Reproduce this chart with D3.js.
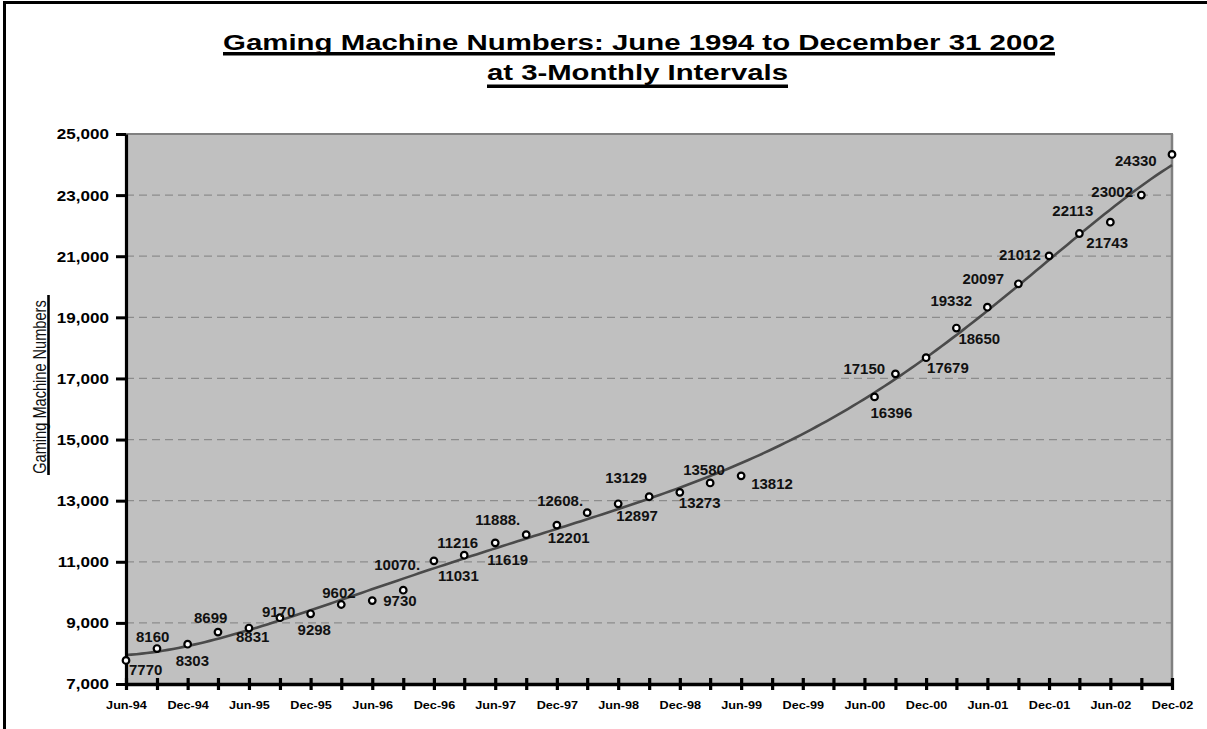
<!DOCTYPE html>
<html>
<head>
<meta charset="utf-8">
<script src="https://cdn.jsdelivr.net/npm/d3@7/dist/d3.min.js"></script>
<style>
body { margin: 0; background: #fff; }
text { font-family: "Liberation Sans", Arial, sans-serif; }
</style>
</head>
<body>
<div id="chart"></div>
<script>
// quarterly counts
var dates = ["1994-06","1994-09","1994-12","1995-03","1995-06","1995-09","1995-12","1996-03",
             "1996-06","1996-09","1996-12","1997-03","1997-06","1997-09","1997-12","1998-03",
             "1998-06","1998-09","1998-12","1999-03","1999-06","2000-07","2000-09","2000-12",
             "2001-03","2001-06","2001-09","2001-12","2002-03","2002-06","2002-09","2002-12"];
var values = [7770,8160,8303,8699,8831,9170,9298,9602,9730,10070,11031,11216,11619,11888,12201,12608,
              12897,13129,13273,13580,13812,16396,17150,17679,18650,19332,20097,21012,21743,22113,23002,24330];
var labels = ["7770","8160","8303","8699","8831","9170","9298","9602","9730","10070.","11031","11216",
              "11619","11888.","12201","12608.","12897","13129","13273","13580","13812","16396","17150",
              "17679","18650","19332","20097","21012","21743","22113","23002","24330"];
var yTicks = [7000,9000,11000,13000,15000,17000,19000,21000,23000,25000];

// where each data label sits relative to its marker (dragged by hand in the original)
var labelOffsets = [[3,15],[-21,-7],[-12,22],[-24,-9],[-13,14],[-18,-1],[-13,21],[-19,-6],[11,5],[-29,-20],
                    [4,20],[-27,-7],[-8,22],[-51,-10],[-9,18],[-50,-7],[-2,17],[-44,-14],[-1,16],[-27,-8],
                    [10,13],[-4,21],[-52,0],[1,15],[2,16],[-57,-1],[-56,0],[-50,4],[7,14],[-58,-6],[-50,2],[-57,12]];

// 6th order polynomial trendline
var trendOrder = 6;

var parse = d3.timeParse("%Y-%m");
var data = dates.map(function(d, i) { return {date: parse(d), value: values[i], label: labels[i]}; });

var W = 1207, H = 729;
var pLeft = 126, pRight = 1172, pTop = 134, pBottom = 684;
var start = parse("1994-06"), end = parse("2002-12");

var x = d3.scaleTime().domain([start, end]).range([pLeft, pRight]);
var y = d3.scaleLinear().domain([7000, 25000]).range([pBottom, pTop]);

var svg = d3.select("#chart").append("svg")
    .attr("width", W)
    .attr("height", H);

function stretch(sel, k) {
    sel.each(function() {
        var w = this.getComputedTextLength();
        d3.select(this).attr("textLength", w * k).attr("lengthAdjust", "spacingAndGlyphs");
    });
}

// page frame
svg.append("line").attr("x1", 3).attr("x2", W).attr("y1", 2.5).attr("y2", 2.5)
    .attr("stroke", "#000").attr("stroke-width", 3);
svg.append("line").attr("x1", 4.5).attr("x2", 4.5).attr("y1", 1).attr("y2", H)
    .attr("stroke", "#000").attr("stroke-width", 3);

// plot area
svg.append("rect")
    .attr("x", pLeft).attr("y", pTop)
    .attr("width", pRight - pLeft).attr("height", pBottom - pTop)
    .attr("fill", "#c0c0c0");

svg.append("g").selectAll("line")
    .data(yTicks.filter(function(d) { return d > 7000 && d < 25000; }))
    .join("line")
    .attr("x1", pLeft).attr("x2", pRight)
    .attr("y1", function(d) { return y(d); })
    .attr("y2", function(d) { return y(d); })
    .attr("stroke", "#8c8c8c")
    .attr("stroke-width", 1.2)
    .attr("stroke-dasharray", "8,5");

svg.append("line").attr("x1", pLeft).attr("x2", pRight + 1).attr("y1", pTop).attr("y2", pTop)
    .attr("stroke", "#808080").attr("stroke-width", 2);
svg.append("line").attr("x1", pRight).attr("x2", pRight).attr("y1", pTop).attr("y2", pBottom)
    .attr("stroke", "#808080").attr("stroke-width", 2.5);

// least squares polynomial, like the spreadsheet trendline
function polyFit(ts, vs, n) {
    var m = n + 1, A = [], i, j, k;
    for (i = 0; i < m; i++) {
        A.push([]);
        for (j = 0; j < m; j++) A[i].push(d3.sum(ts, function(t) { return Math.pow(t, i + j); }));
        A[i].push(d3.sum(ts, function(t, q) { return Math.pow(t, i) * vs[q]; }));
    }
    for (i = 0; i < m; i++) {
        var p = i;
        for (k = i + 1; k < m; k++) if (Math.abs(A[k][i]) > Math.abs(A[p][i])) p = k;
        var tmp = A[i]; A[i] = A[p]; A[p] = tmp;
        for (k = i + 1; k < m; k++) {
            var f = A[k][i] / A[i][i];
            for (j = i; j <= m; j++) A[k][j] -= f * A[i][j];
        }
    }
    var c = new Array(m);
    for (i = m - 1; i >= 0; i--) {
        var s = A[i][m];
        for (j = i + 1; j < m; j++) s -= A[i][j] * c[j];
        c[i] = s / A[i][i];
    }
    return c;
}
var span = end - start;
var ts = data.map(function(d) { return (d.date - start) / span; });
var coef = polyFit(ts, values, trendOrder);
var trend = d3.range(0, 1.0001, 0.005).map(function(t) {
    return {date: new Date(+start + t * span), value: d3.sum(coef, function(c, i) { return c * Math.pow(t, i); })};
});

svg.append("path")
    .datum(trend)
    .attr("fill", "none")
    .attr("stroke", "#4a4a4a")
    .attr("stroke-width", 2.6)
    .attr("d", d3.line()
        .x(function(d) { return x(d.date); })
        .y(function(d) { return y(d.value); }));

// axes
var yAxis = svg.append("g")
    .attr("transform", "translate(" + pLeft + ",0)")
    .call(d3.axisLeft(y).tickValues(yTicks).tickSize(10).tickSizeOuter(0).tickPadding(7)
        .tickFormat(d3.format(",")));
yAxis.select(".domain").attr("stroke-width", 3.2);
yAxis.selectAll(".tick line").attr("stroke-width", 3);
yAxis.selectAll(".tick text")
    .attr("font-family", "Liberation Sans, Arial, sans-serif")
    .attr("font-size", 15.5).attr("font-weight", "bold").attr("fill", "#000")
    .call(stretch, 1.1);

var qTicks = d3.timeMonth.range(start, d3.timeMonth.offset(end, 1)).filter(function(d, i) { return i % 3 === 0; });
var fmt = d3.timeFormat("%b-%y");
var xAxis = svg.append("g")
    .attr("transform", "translate(0," + pBottom + ")")
    .call(d3.axisBottom(x).tickValues(qTicks).tickSize(6).tickSizeOuter(0)
        .tickFormat(function(d) { return (d.getMonth() === 5 || d.getMonth() === 11) ? fmt(d) : ""; }));
xAxis.select(".domain").attr("stroke-width", 3.6);
xAxis.selectAll(".tick line").attr("y1", -6).attr("y2", 6).attr("stroke-width", 3.2);
xAxis.selectAll(".tick text")
    .attr("y", 17)
    .attr("font-family", "Liberation Sans, Arial, sans-serif")
    .attr("font-size", 11.5).attr("font-weight", "bold").attr("fill", "#000")
    .filter(function() { return this.textContent !== ""; })
    .call(stretch, 1.1);

// markers
svg.append("g").selectAll("circle")
    .data(data)
    .join("circle")
    .attr("cx", function(d) { return x(d.date); })
    .attr("cy", function(d) { return y(d.value); })
    .attr("r", 3.3)
    .attr("fill", "#fff")
    .attr("stroke", "#000")
    .attr("stroke-width", 2.2);

// data labels
svg.append("g").selectAll("text")
    .data(data)
    .join("text")
    .attr("x", function(d, i) { return x(d.date) + labelOffsets[i][0]; })
    .attr("y", function(d, i) { return y(d.value) + labelOffsets[i][1]; })
    .attr("font-size", 15)
    .attr("font-weight", "bold")
    .attr("fill", "#111")
    .text(function(d) { return d.label; });

// titles
svg.append("text")
    .attr("x", 223).attr("y", 50)
    .attr("font-size", 22.5).attr("font-weight", "bold")
    .attr("textLength", 832).attr("lengthAdjust", "spacingAndGlyphs")
    .text("Gaming Machine Numbers: June 1994 to December 31 2002");
svg.append("line").attr("x1", 223).attr("x2", 1055).attr("y1", 53.7).attr("y2", 53.7)
    .attr("stroke", "#000").attr("stroke-width", 3.6);

svg.append("text")
    .attr("x", 487).attr("y", 80)
    .attr("font-size", 22.5).attr("font-weight", "bold")
    .attr("textLength", 301).attr("lengthAdjust", "spacingAndGlyphs")
    .text("at 3-Monthly Intervals");
svg.append("line").attr("x1", 487).attr("x2", 788).attr("y1", 86.3).attr("y2", 86.3)
    .attr("stroke", "#000").attr("stroke-width", 3.6);

svg.append("text")
    .attr("transform", "translate(45.5,387) scale(1.2,1) rotate(-90)")
    .attr("text-anchor", "middle")
    .attr("font-size", 14.6)
    .attr("fill", "#111")
    .text("Gaming Machine Numbers");
svg.append("line").attr("x1", 48.5).attr("x2", 48.5).attr("y1", 295).attr("y2", 475)
    .attr("stroke", "#000").attr("stroke-width", 2.6);
</script>
</body>
</html>
